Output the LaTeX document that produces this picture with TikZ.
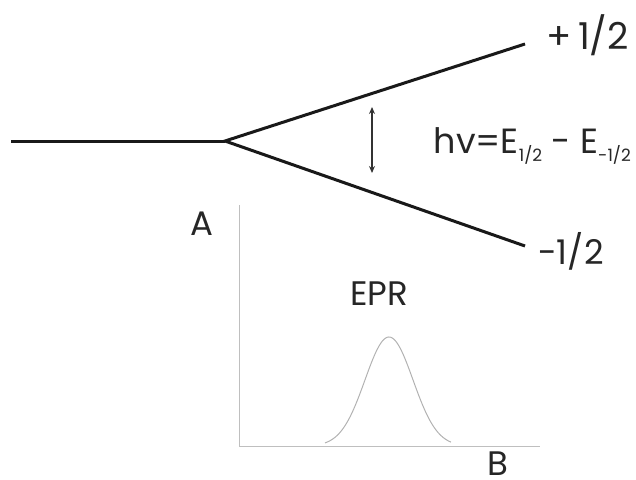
\documentclass[tikz,border=0pt]{standalone}
\usepackage{fontspec}
\setmainfont{Poppins}
\usetikzlibrary{arrows.meta}
\begin{document}
\begin{tikzpicture}[x=1pt,y=-1pt,
  level/.style={line width=3pt,black!90},
  axis/.style={line width=1pt,black!25},
  lbl/.style={font=\fontsize{34}{38}\selectfont,text=black!85,inner sep=0pt},
  biglbl/.style={font=\fontsize{37}{40}\selectfont,text=black!85,inner sep=0pt},
  sublbl/.style={font=\fontsize{35}{38}\selectfont,text=black!85,inner sep=0pt}]
\useasboundingbox (0,0) rectangle (636,479);
% energy levels
\coordinate (s) at (11,141);
\coordinate (j) at (225,141);
\coordinate (u) at (525,44);
\coordinate (d) at (525,246);
\draw[level] (s) -- (j);
\draw[level,line join=miter] (u) -- (j) -- (d);
% transition arrow
\coordinate (at) at (372,107);
\coordinate (ab) at (372,173);
\draw[line width=1.2pt,black!80,{Stealth[length=7pt,width=6pt]}-{Stealth[length=7pt,width=6pt]}] (at) -- (ab);
% labels
\node[biglbl,anchor=east] (plus) at (629,35) {+\,1/2};
\node[lbl,anchor=west] (minus) at (538,251) {-1/2};
\node[sublbl,anchor=base east] (hv) at (631,153) {hv=E\raisebox{-8pt}{\fontsize{17}{18}\selectfont 1/2} - E\raisebox{-8pt}{\fontsize{17}{18}\selectfont -1/2}};
% axes
\coordinate (o) at (239,446);
\coordinate (ytop) at (239,205);
\coordinate (xend) at (540,446);
\draw[axis] (ytop) -- (o) -- (xend);
\node[lbl] (A) at (202,224) {A};
\node[lbl,anchor=north] (B) at (498,452) {B};
\node[lbl] (epr) at (379,294) {EPR};
% EPR line
\draw[line width=1pt,black!30,domain=-64:62,samples=80,smooth]
  plot ({389+\x},{446-109*exp(-(\x*\x)/(2*24*24))});
\end{tikzpicture}
\end{document}
